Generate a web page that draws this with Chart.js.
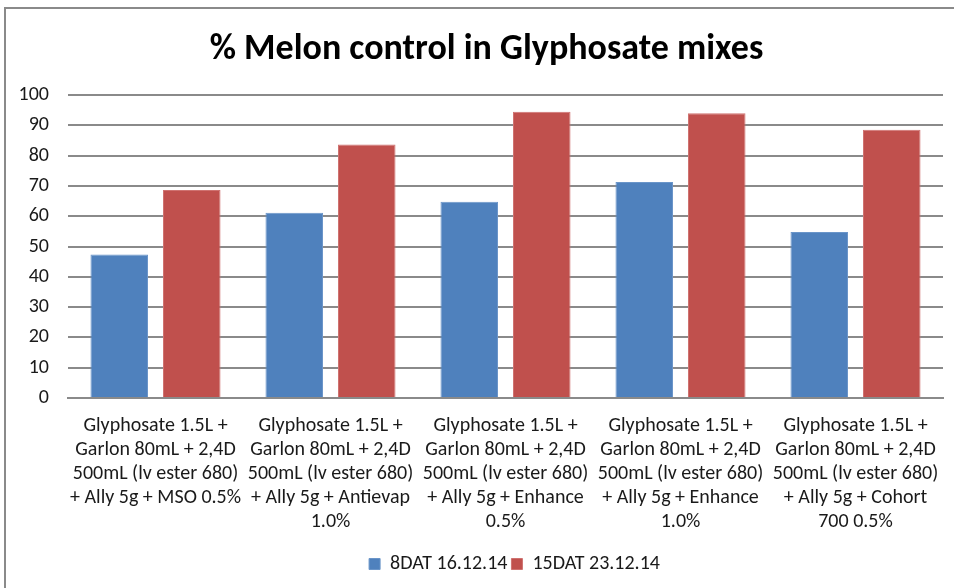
<!DOCTYPE html>
<html>
<head>
<meta charset="utf-8">
<script src="https://cdn.jsdelivr.net/npm/chart.js@4.4.1/dist/chart.umd.min.js"></script>
<style>
    html, body { margin: 0; padding: 0; background: #fff; overflow: hidden; }
    #frame {
        position: absolute; left: 4px; top: 7px;
        width: 950px; height: 581px;
        border-top: 2px solid #8a8a8a; border-left: 2px solid #8a8a8a;
    }
    #chart { display: block; }
</style>
</head>
<body>
<div id="frame"><canvas id="chart" width="950" height="581"></canvas></div>
<script>
// Chart data
const categories = [
    ['Glyphosate 1.5L +', 'Garlon 80mL + 2,4D', '500mL (lv ester 680)', '+ Ally 5g + MSO 0.5%'],
    ['Glyphosate 1.5L +', 'Garlon 80mL + 2,4D', '500mL (lv ester 680)', '+ Ally 5g + Antievap', '1.0%'],
    ['Glyphosate 1.5L +', 'Garlon 80mL + 2,4D', '500mL (lv ester 680)', '+ Ally 5g + Enhance', '0.5%'],
    ['Glyphosate 1.5L +', 'Garlon 80mL + 2,4D', '500mL (lv ester 680)', '+ Ally 5g + Enhance', '1.0%'],
    ['Glyphosate 1.5L +', 'Garlon 80mL + 2,4D', '500mL (lv ester 680)', '+ Ally 5g + Cohort', '700 0.5%']
];
const seriesNames = ['8DAT 16.12.14', '15DAT 23.12.14'];
const dat8 = [47.4, 61.2, 64.8, 71.3, 54.8];
const dat15 = [68.7, 83.7, 94.5, 94.0, 88.6];
const yMin = 0, yMax = 100, yStep = 10;

const font = 'Calibri, Carlito, "Liberation Sans", Arial, sans-serif';
const gridColor = '#8a8a8a';
const textColor = '#1a1a1a';

// nudge title and legend like the original
const shiftBoxes = {
    id: 'shiftBoxes',
    afterLayout(chart) {
        chart.titleBlock.left += 12;
        chart.titleBlock.right += 12;
        chart.legend.left += 40;
        chart.legend.right += 40;
        chart.legend.top += 8;
        chart.legend.bottom += 8;
    }
};

const ctx = document.getElementById('chart').getContext('2d');
const chart = new Chart(ctx, {
    type: 'bar',
    data: {
        labels: categories,
        datasets: [{
            label: seriesNames[0],
            data: dat8,
            backgroundColor: '#4f81bd',
            borderColor: '#6a95c9',
            borderWidth: 1
        }, {
            label: seriesNames[1],
            data: dat15,
            backgroundColor: '#c0504d',
            borderColor: '#cf7270',
            borderWidth: 1
        }]
    },
    options: {
        responsive: false,
        animation: false,
        categoryPercentage: 0.829,
        barPercentage: 0.793,
        layout: { padding: { left: 0, right: 13, top: 0, bottom: 14 } },
        plugins: {
            title: {
                display: true,
                text: '% Melon control in Glyphosate mixes',
                color: '#000',
                font: { family: font, size: 36, weight: 'bold' },
                padding: { top: 19, bottom: 24 }
            },
            legend: {
                position: 'bottom',
                labels: {
                    color: textColor,
                    font: { family: font, size: 20 },
                    boxWidth: 11,
                    boxHeight: 11,
                    padding: 4
                }
            },
            tooltip: { enabled: false }
        },
        scales: {
            x: {
                grid: { display: false },
                border: { display: true, color: gridColor, width: 2 },
                ticks: {
                    color: textColor,
                    font: { family: font, size: 20, lineHeight: 1.2 },
                    maxRotation: 0,
                    minRotation: 0,
                    autoSkip: false,
                    padding: 8
                }
            },
            y: {
                min: yMin,
                max: yMax,
                afterFit(scale) { scale.width = 62; },
                grid: { color: gridColor, lineWidth: 2, drawTicks: false },
                border: { display: false },
                ticks: {
                    stepSize: yStep,
                    color: textColor,
                    font: { family: font, size: 20 },
                    padding: 19
                }
            }
        }
    },
    plugins: [shiftBoxes]
});
</script>
</body>
</html>
